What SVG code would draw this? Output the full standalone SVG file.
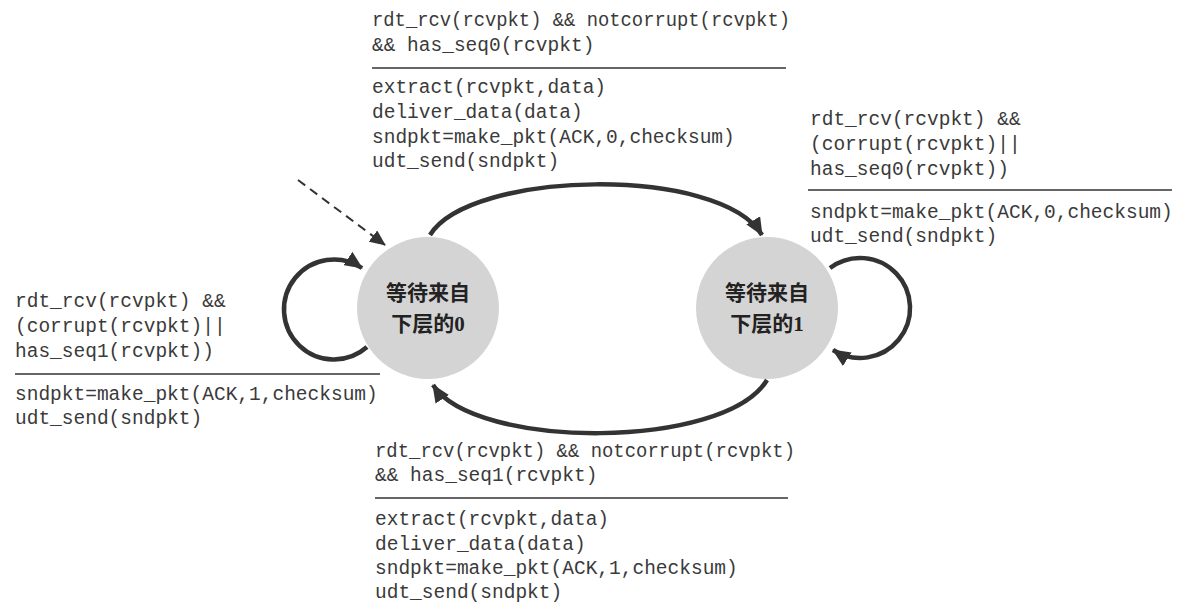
<svg xmlns="http://www.w3.org/2000/svg" width="1186" height="610" viewBox="0 0 1186 610">
<style>
.t{font-family:"Liberation Mono","Courier New",monospace;font-size:19.5px;fill:#3a3a3a}
.rule{stroke:#333;stroke-width:1.6}
.st{fill:#d4d4d4}
.lbl{font-family:"Liberation Serif","Noto Sans CJK SC",serif;font-weight:bold;font-size:21px;fill:#222;text-anchor:middle}
.arc{fill:none;stroke:#333;stroke-width:4.5}
.dash{fill:none;stroke:#333;stroke-width:2;stroke-dasharray:9 6}
</style>
<defs>
<marker id="ah" markerUnits="userSpaceOnUse" markerWidth="20" markerHeight="16" refX="17" refY="8" orient="auto">
<path d="M0,0 L18,8 L0,16 Z" fill="#333"/>
</marker>
<marker id="ahs" markerUnits="userSpaceOnUse" markerWidth="16" markerHeight="14" refX="15" refY="7" orient="auto">
<path d="M0,0 L16,7 L0,14 Z" fill="#333"/>
</marker>
</defs>
<rect width="1186" height="610" fill="#fff"/>
<g id="s0">
<circle class="st" cx="428" cy="308" r="71"/>
<text class="lbl" x="428" y="300">等待来自</text>
<text class="lbl" x="428" y="331">下层的0</text>
</g>
<g id="s1">
<circle class="st" cx="767" cy="308" r="71"/>
<text class="lbl" x="767" y="300">等待来自</text>
<text class="lbl" x="767" y="331">下层的1</text>
</g>
<g id="connectors">
<path class="dash" d="M298,180 L385,245" marker-end="url(#ahs)"/>
<path class="arc" d="M430,235 C470,170 720,165 762,235" marker-end="url(#ah)"/>
<path class="arc" d="M767,380 C725,450 475,450 433,385" marker-end="url(#ah)"/>
<path class="arc" d="M367,347 A50,50 0 1 1 362,268" marker-end="url(#ah)"/>
<path class="arc" d="M830,268 A50,50 0 1 1 833,350" marker-end="url(#ah)"/>
</g>
<g id="label-top">
<text class="t" x="372" y="26" textLength="418" lengthAdjust="spacingAndGlyphs">rdt_rcv(rcvpkt) &amp;&amp; notcorrupt(rcvpkt)</text>
<text class="t" x="372" y="51">&amp;&amp; has_seq0(rcvpkt)</text>
<line class="rule" x1="372" y1="68" x2="786" y2="68"/>
<text class="t" x="372" y="93">extract(rcvpkt,data)</text>
<text class="t" x="372" y="118">deliver_data(data)</text>
<text class="t" x="372" y="143">sndpkt=make_pkt(ACK,0,checksum)</text>
<text class="t" x="372" y="167">udt_send(sndpkt)</text>
</g>
<g id="label-right">
<text class="t" x="810" y="125">rdt_rcv(rcvpkt) &amp;&amp;</text>
<text class="t" x="810" y="150">(corrupt(rcvpkt)||</text>
<text class="t" x="810" y="175">has_seq0(rcvpkt))</text>
<line class="rule" x1="808" y1="190" x2="1172" y2="190"/>
<text class="t" x="810" y="218">sndpkt=make_pkt(ACK,0,checksum)</text>
<text class="t" x="810" y="242">udt_send(sndpkt)</text>
</g>
<g id="label-left">
<text class="t" x="15" y="307">rdt_rcv(rcvpkt) &amp;&amp;</text>
<text class="t" x="15" y="332">(corrupt(rcvpkt)||</text>
<text class="t" x="15" y="357">has_seq1(rcvpkt))</text>
<line class="rule" x1="15" y1="374" x2="380" y2="374"/>
<text class="t" x="15" y="400">sndpkt=make_pkt(ACK,1,checksum)</text>
<text class="t" x="15" y="424">udt_send(sndpkt)</text>
</g>
<g id="label-bottom">
<text class="t" x="375" y="457" textLength="420" lengthAdjust="spacingAndGlyphs">rdt_rcv(rcvpkt) &amp;&amp; notcorrupt(rcvpkt)</text>
<text class="t" x="375" y="481">&amp;&amp; has_seq1(rcvpkt)</text>
<line class="rule" x1="375" y1="498" x2="788" y2="498"/>
<text class="t" x="375" y="525">extract(rcvpkt,data)</text>
<text class="t" x="375" y="550">deliver_data(data)</text>
<text class="t" x="375" y="574">sndpkt=make_pkt(ACK,1,checksum)</text>
<text class="t" x="375" y="598">udt_send(sndpkt)</text>
</g>
</svg>
